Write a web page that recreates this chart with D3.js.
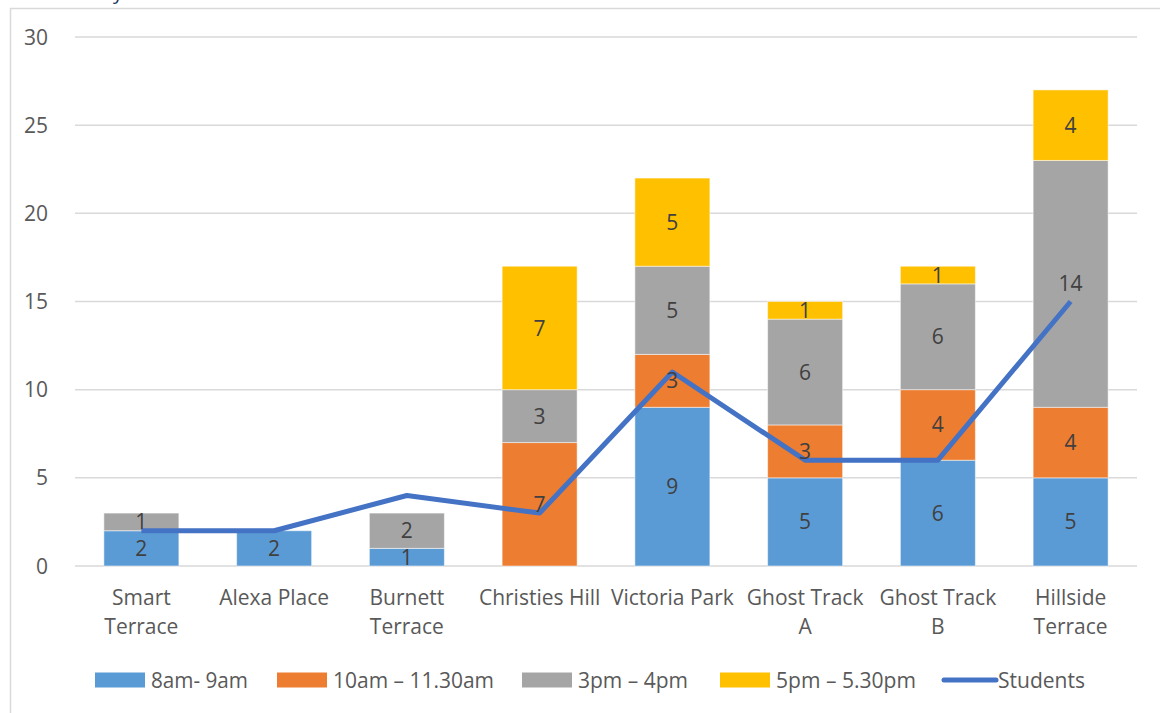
<!DOCTYPE html>
<html>
<head>
<meta charset="utf-8">
<script src="https://cdn.jsdelivr.net/npm/d3@7"></script>
<style>
  body { margin: 0; background: #fff; }
  svg { display: block; font-family: "Open Sans", "Liberation Sans", sans-serif; }
</style>
</head>
<body>
<div id="chart"></div>
<script>
// Declare data
const categories = ["Smart Terrace", "Alexa Place", "Burnett Terrace", "Christies Hill",
  "Victoria Park", "Ghost Track A", "Ghost Track B", "Hillside Terrace"];
const seriesNames = ["8am- 9am", "10am \u2013 11.30am", "3pm \u2013 4pm", "5pm \u2013 5.30pm"];
const morning = [2, 2, 1, 0, 9, 5, 6, 5];
const midMorning = [0, 0, 0, 7, 3, 3, 4, 4];
const afternoon = [1, 0, 2, 3, 5, 6, 6, 14];
const evening = [0, 0, 0, 7, 5, 1, 1, 4];
const students = [2, 2, 4, 3, 11, 6, 6, 15];
const yTicks = [0, 5, 10, 15, 20, 25, 30];
// Category labels as they wrap on the axis
const catLines = [["Smart", "Terrace"], ["Alexa Place"], ["Burnett", "Terrace"], ["Christies Hill"],
  ["Victoria Park"], ["Ghost Track", "A"], ["Ghost Track", "B"], ["Hillside", "Terrace"]];

const colors = ["#5B9BD5", "#ED7D31", "#A5A5A5", "#FFC000"];
const lineColor = "#4472C4";

const width = 1160;
const height = 713;
const marginTop = 37;
const marginRight = 23;
const marginBottom = 147;
const marginLeft = 75;

const table = categories.map((c, i) => ({
  cat: c,
  [seriesNames[0]]: morning[i],
  [seriesNames[1]]: midMorning[i],
  [seriesNames[2]]: afternoon[i],
  [seriesNames[3]]: evening[i]
}));
const stacked = d3.stack().keys(seriesNames)(table);

const x = d3.scaleBand()
    .domain(categories)
    .range([marginLeft, width - marginRight])
    .paddingInner(0.435)
    .paddingOuter(0.2175);

const y = d3.scaleLinear()
    .domain([0, 30])
    .range([height - marginBottom, marginTop]);

const svg = d3.select("#chart")
  .append("svg")
    .attr("width", width)
    .attr("height", height)
    .attr("viewBox", [0, 0, width, height]);

// Chart area border (left and top visible)
svg.append("path")
    .attr("d", `M10.5,${height}V8.5H${width}`)
    .attr("fill", "none")
    .attr("stroke", "#d9d9d9")
    .attr("stroke-width", 1.5);

// Title sits mostly above the frame, only its descender shows
svg.append("text")
    .attr("x", 123)
    .attr("y", -1)
    .attr("text-anchor", "end")
    .attr("fill", "#1F3864")
    .attr("font-size", 20)
    .text("Survey");

// Gridlines
svg.append("g")
  .selectAll("line")
  .data(yTicks)
  .join("line")
    .attr("x1", marginLeft)
    .attr("x2", width - marginRight)
    .attr("y1", d => y(d))
    .attr("y2", d => y(d))
    .attr("stroke", "#d9d9d9")
    .attr("stroke-width", 1.5);

// Y axis labels
svg.append("g")
  .selectAll("text")
  .data(yTicks)
  .join("text")
    .attr("x", 48)
    .attr("y", d => y(d))
    .attr("dy", "0.36em")
    .attr("text-anchor", "end")
    .attr("fill", "#595959")
    .attr("font-size", 21)
    .text(d => d);

// Bars
const layer = svg.append("g")
  .selectAll("g")
  .data(stacked)
  .join("g")
    .attr("fill", (d, i) => colors[i]);

layer.selectAll("rect")
  .data(d => d.map(v => ({ v, cat: v.data.cat })))
  .join("rect")
    .attr("x", d => x(d.cat))
    .attr("y", d => y(d.v[1]))
    .attr("width", x.bandwidth())
    .attr("height", d => y(d.v[0]) - y(d.v[1]))
    .attr("stroke", "#fff")
    .attr("stroke-opacity", 0.5)
    .attr("stroke-width", 1);

// Line
const line = d3.line()
    .x((d, i) => x(categories[i]) + x.bandwidth() / 2)
    .y(d => y(d));

svg.append("path")
    .datum(students)
    .attr("d", line)
    .attr("fill", "none")
    .attr("stroke", lineColor)
    .attr("stroke-width", 5)
    .attr("stroke-linejoin", "round");

// Bar value labels (drawn above the line)
svg.append("g")
  .selectAll("g")
  .data(stacked)
  .join("g")
  .selectAll("text")
  .data(d => d.filter(v => v[1] - v[0] > 0).map(v => ({ v, cat: v.data.cat })))
  .join("text")
    .attr("x", d => x(d.cat) + x.bandwidth() / 2)
    .attr("y", d => y((d.v[0] + d.v[1]) / 2))
    .attr("dy", "0.36em")
    .attr("text-anchor", "middle")
    .attr("fill", "#404040")
    .attr("font-size", 21)
    .text(d => d.v[1] - d.v[0]);

// Category labels
const catG = svg.append("g")
  .selectAll("text")
  .data(categories)
  .join("text")
    .attr("x", d => x(d) + x.bandwidth() / 2)
    .attr("y", 605)
    .attr("text-anchor", "middle")
    .attr("fill", "#595959")
    .attr("font-size", 21);

catG.selectAll("tspan")
  .data((d, i) => catLines[i])
  .join("tspan")
    .attr("x", function () { return this.parentNode.getAttribute("x"); })
    .attr("dy", (d, i) => i === 0 ? 0 : 29)
    .text(d => d);

// Legend (text is condensed in the original)
const legendItems = [
  { name: seriesNames[0], x: 95, w: 97, type: "rect", color: colors[0] },
  { name: seriesNames[1], x: 277, w: 161, type: "rect", color: colors[1] },
  { name: seriesNames[2], x: 522, w: 110, type: "rect", color: colors[2] },
  { name: seriesNames[3], x: 720, w: 140, type: "rect", color: colors[3] },
  { name: "Students", x: 942, w: 87, type: "line", color: lineColor }
];
const legY = 680;
const leg = svg.append("g")
  .selectAll("g")
  .data(legendItems)
  .join("g")
    .attr("transform", d => `translate(${d.x},${legY})`);

leg.filter(d => d.type === "rect").append("rect")
    .attr("x", 0)
    .attr("y", -7.5)
    .attr("width", 50)
    .attr("height", 15)
    .attr("fill", d => d.color);

leg.filter(d => d.type === "line").append("line")
    .attr("x1", 2)
    .attr("x2", 54)
    .attr("stroke", d => d.color)
    .attr("stroke-width", 5)
    .attr("stroke-linecap", "round");

leg.append("text")
    .attr("x", 56)
    .attr("dy", "0.36em")
    .attr("fill", "#595959")
    .attr("font-size", 21)
    .attr("textLength", d => d.w)
    .attr("lengthAdjust", "spacingAndGlyphs")
    .text(d => d.name);
</script>
</body>
</html>
